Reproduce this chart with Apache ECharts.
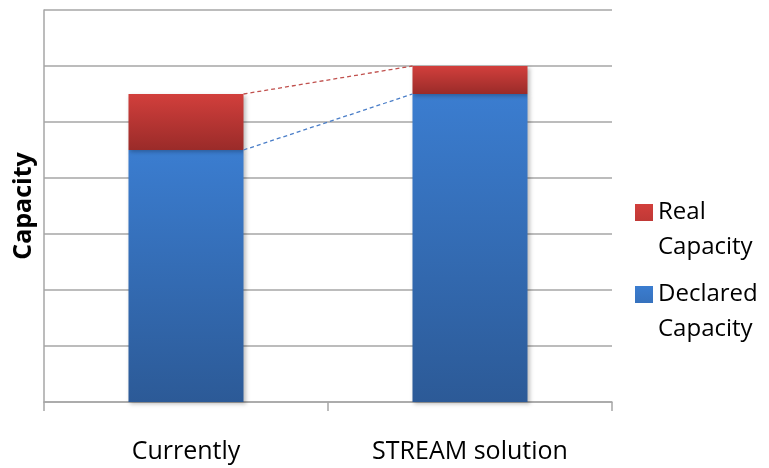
<!DOCTYPE html>
<html><head><meta charset="utf-8">
<script src="https://cdn.jsdelivr.net/npm/echarts@6/dist/echarts.min.js"></script>
<style>html,body{margin:0;padding:0;background:#fff}#c{width:769px;height:468px}</style>
</head><body><div id="c"></div>
<script>
const categories = ['Currently', 'STREAM solution'];
const declaredCapacity = [4.5, 5.5];
const realCapacity = [1.0, 0.5];
const yMin = 0, yMax = 7, yStep = 1;

const FONT = 'Open Sans';
const chart = echarts.init(document.getElementById('c'));

function grad(top, bottom) {
  return new echarts.graphic.LinearGradient(0, 0, 0, 1, [
    {offset: 0, color: top}, {offset: 1, color: bottom}
  ]);
}
const BAR_FRAC = 0.405;

// series-line data: [i, declaredTop_i, totalTop_i, declaredTop_next, totalTop_next]
const seriesLineData = [];
for (let i = 0; i < categories.length - 1; i++) {
  seriesLineData.push([i, declaredCapacity[i], declaredCapacity[i] + realCapacity[i],
    declaredCapacity[i + 1], declaredCapacity[i + 1] + realCapacity[i + 1]]);
}
// legend icon: 18x17 square at the top of a taller item box
const LEGEND_ICON = 'path://M0,0H18V17H0ZM0,52H0.001';

chart.setOption({
  animation: false,
  grid: {left: 44, right: 157, top: 10, bottom: 66},
  legend: {
    orient: 'vertical', left: 630, top: 190,
    itemWidth: 18, itemHeight: 52, itemGap: 12, icon: LEGEND_ICON,
    formatter: n => n.replace(' ', '\n'),
    textStyle: {fontFamily: FONT, fontSize: 24, color: '#000', lineHeight: 35},
    data: ['Real Capacity', 'Declared Capacity']
  },
  xAxis: {
    type: 'category', data: categories,
    axisLine: {lineStyle: {color: '#a6a6a6', width: 1.5}},
    axisTick: {show: true, length: 9, lineStyle: {color: '#a6a6a6', width: 1.5}},
    axisLabel: {fontFamily: FONT, fontSize: 25, color: '#000', margin: 37}
  },
  yAxis: {
    type: 'value', min: yMin, max: yMax, interval: yStep,
    name: 'Capacity', nameLocation: 'middle', nameGap: 8,
    nameTextStyle: {fontFamily: FONT, fontSize: 25, fontWeight: 'bold', color: '#000'},
    axisLine: {show: true, lineStyle: {color: '#a6a6a6', width: 1.5}},
    axisTick: {show: false},
    axisLabel: {show: false},
    splitLine: {lineStyle: {color: '#a6a6a6', width: 1.5}}
  },
  series: [
    {
      name: 'Declared Capacity', type: 'bar', stack: 'cap', data: declaredCapacity,
      barWidth: (BAR_FRAC * 100) + '%',
      itemStyle: {color: grad('#3b7dd0', '#2c5a97'), shadowColor: 'rgba(0,0,0,0.25)', shadowBlur: 4, shadowOffsetX: 2, shadowOffsetY: 2}
    },
    {
      name: 'Real Capacity', type: 'bar', stack: 'cap', data: realCapacity,
      itemStyle: {color: grad('#d23f3c', '#9a2b29'), shadowColor: 'rgba(0,0,0,0.25)', shadowBlur: 4, shadowOffsetX: 2, shadowOffsetY: 2}
    },
    {
      type: 'custom', silent: true, z: 5,
      data: seriesLineData,
      renderItem: function (params, api) {
        const i = api.value(0);
        const bw = api.size([1, 0])[0] * BAR_FRAC;
        const a1 = api.coord([i, api.value(1)]), a2 = api.coord([i, api.value(2)]);
        const b1 = api.coord([i + 1, api.value(3)]), b2 = api.coord([i + 1, api.value(4)]);
        const x0 = a1[0] + bw / 2, x1 = b1[0] - bw / 2;
        return {type: 'group', children: [
          {type: 'line', shape: {x1: x0, y1: a2[1], x2: x1, y2: b2[1]},
           style: {stroke: '#c0504d', lineWidth: 1.3, lineDash: [4, 3]}},
          {type: 'line', shape: {x1: x0, y1: a1[1], x2: x1, y2: b1[1]},
           style: {stroke: '#4a7ec8', lineWidth: 1.3, lineDash: [4, 3]}}
        ]};
      }
    }
  ]
});
</script></body></html>
